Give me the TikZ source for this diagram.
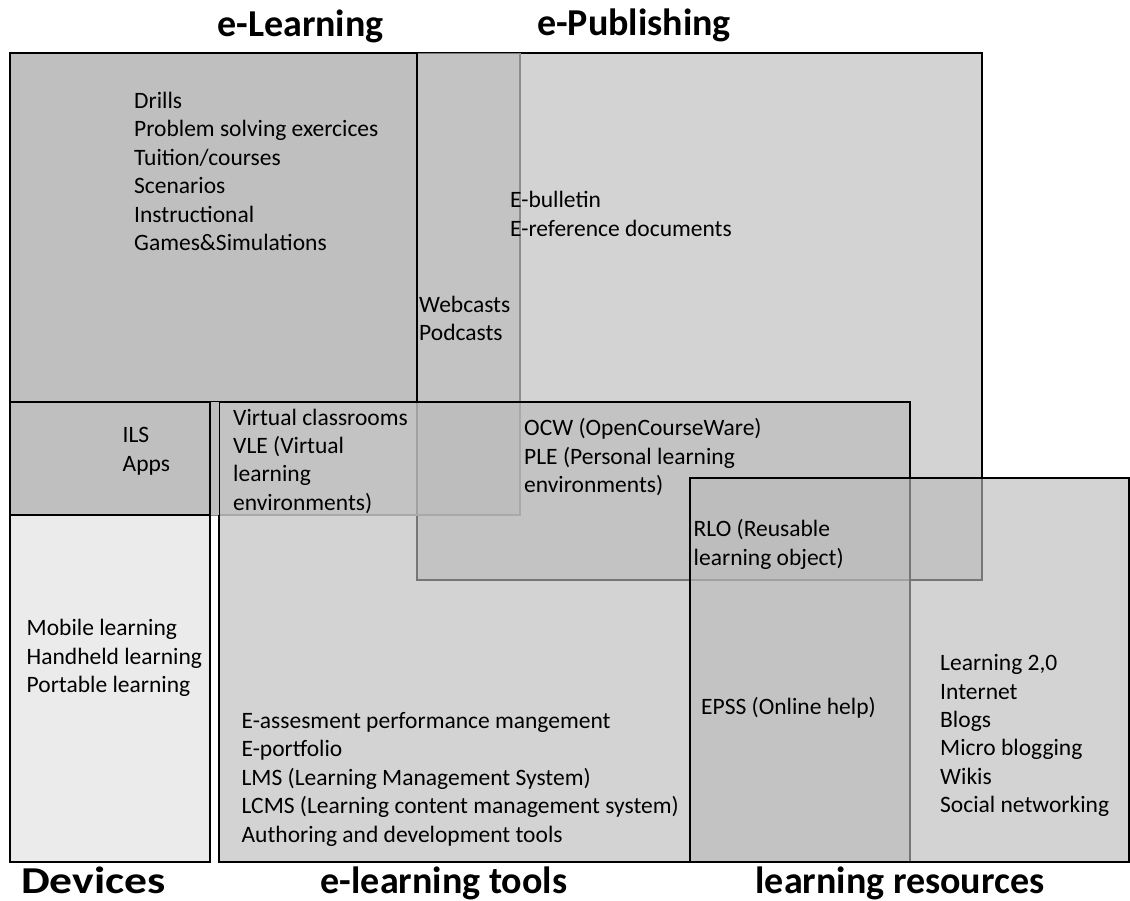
\documentclass[tikz,border=0pt]{standalone}
\usepackage{fontspec}
\setmainfont{Carlito}
\definecolor{darkfill}{HTML}{BFBFBF}
\definecolor{lightfill}{HTML}{D3D3D3}
\definecolor{palefill}{HTML}{EBEBEB}
\definecolor{veil}{HTML}{BABABA}
\definecolor{edgegray}{HTML}{8C8C8C}
\tikzset{
  box/.style={draw=black,line width=2pt},
  veilbox/.style={fill=veil,fill opacity=0.64},
  item/.style={anchor=north west,align=left,inner sep=0pt,font=\fontsize{23.5}{28.4}\selectfont},
  title/.style={anchor=base,inner sep=0pt,font=\fontsize{38}{44}\selectfont\bfseries}
}
\begin{document}
\begin{tikzpicture}[x=1pt,y=-1pt]
            \useasboundingbox (0,0) rectangle (1130,901);
            \filldraw[box,fill=lightfill] (417,53) rectangle (982,580);
            \fill[veilbox] (210,53) rectangle (520,515);
            \draw[edgegray,line width=2pt] (520,53) -- (520,515) -- (210,515);
            \filldraw[box,veilbox] (219,402) rectangle (910,862);
            \filldraw[box,fill=darkfill] (10,53) rectangle (417,402);
            \fill[darkfill] (10,402) rectangle (219,515);
            \filldraw[box,fill=palefill] (10,515) rectangle (210,862);
            \draw[box] (10,402) rectangle (210,515);
            \filldraw[box,veilbox] (690,478) rectangle (1129,862);
            \node[title] (elearning) at (300.5,36.7) {e-Learning};
            \node[title] (epublishing) at (634,35.5) {e-Publishing};
            \node[title,xscale=1.2,transform shape] (devices) at (93.5,893) {Devices};
            \node[title] (tools) at (444,893) {e-learning tools};
            \node[title] (resources) at (900,893) {learning resources};
            \node[item] (drills) at (134,88.4) {\strut Drills\\Problem solving exercices\\Tuition/courses\\Scenarios\\Instructional\\Games\&Simulations};
            \node[item] (bulletin) at (510,187.7) {\strut E-bulletin\\E-reference documents};
            \node[item] (casts) at (419,292.4) {\strut Webcasts\\Podcasts};
            \node[item] (ils) at (122.5,422.7) {\strut ILS\\Apps};
            \node[item] (vle) at (233,405) {\strut Virtual classrooms\\VLE (Virtual\\learning\\environments)};
            \node[item] (ocw) at (524,415.7) {\strut OCW (OpenCourseWare)\\PLE (Personal learning\\environments)};
            \node[item] (rlo) at (693.5,516.7) {\strut RLO (Reusable\\learning object)};
            \node[item] (mobile) at (26.5,615.7) {\strut Mobile learning\\Handheld learning\\Portable learning};
            \node[item] (lms) at (241.4,708.4) {\strut E-assesment performance mangement\\E-portfolio\\LMS (Learning Management System)\\LCMS (Learning content management system)\\Authoring and development tools};
            \node[item] (epss) at (701,694.7) {\strut EPSS (Online help)};
            \node[item] (web) at (940,650.7) {\strut Learning 2,0\\Internet\\Blogs\\Micro blogging\\Wikis\\Social networking};
        \end{tikzpicture}
\end{document}
